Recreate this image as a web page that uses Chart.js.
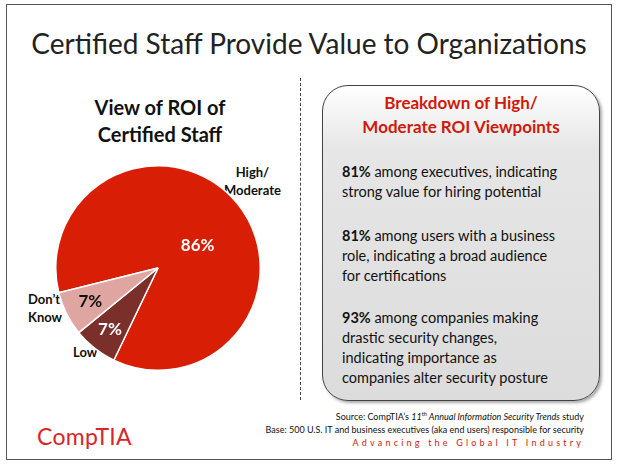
<!DOCTYPE html>
<html><head><meta charset="utf-8">
<script src="https://cdn.jsdelivr.net/npm/chart.js@4"></script>
<style>
body{margin:0;width:618px;height:467px;background:#fff;font-family:Lato,"Open Sans",sans-serif;position:relative;overflow:hidden}
.a{position:absolute;white-space:nowrap}
#frame{left:6px;top:4px;width:604px;height:454px;border:1.5px solid #555}
#title{left:0;width:618px;top:26px;text-align:center;font-size:28px;color:#222}
#sub{left:60px;width:200px;top:94px;text-align:center;font-size:20px;font-weight:bold;line-height:27px;color:#111}
#sep{left:300px;top:78px;height:322px;border-left:1.5px dashed #444}
#box{left:322px;top:85px;width:276px;height:314px;border:1.5px solid #444;border-radius:26px;background:linear-gradient(#fff 0%,#e6e6e6 20%,#dcdcdc 100%);box-shadow:2px 2px 3px #aaa}
#bh{left:322px;width:278px;top:91px;text-align:center;font-size:17px;font-weight:bold;color:#d0190a;line-height:24px}
.t{left:342px;font-size:14.5px;line-height:20px;color:#111}
.l{font-size:13px;font-weight:bold;line-height:18px;color:#111}
#src{right:34px;top:407px;text-align:right;font-size:9px;line-height:13px;color:#111}
#adv{right:34px;top:437px;font-size:9px;letter-spacing:3.2px;color:#d0190a}
#logo{left:37px;top:422px;font-size:23px;color:#d8262a;letter-spacing:0.3px}
#cw{left:55px;top:165px;width:206px;height:206px}
</style></head><body>
<div class="a" id="frame"></div>
<div class="a" id="title">Certified Staff Provide Value to Organizations</div>
<div class="a" id="sub">View of ROI of<br>Certified Staff</div>
<div class="a" id="sep"></div>
<div class="a" id="box"></div>
<div class="a" id="bh">Breakdown of High/<br>Moderate ROI Viewpoints</div>
<div class="a t" style="top:162px"><b>81%</b> among executives, indicating<br>strong value for hiring potential</div>
<div class="a t" style="top:226px"><b>81%</b> among users with a business<br>role, indicating a broad audience<br>for certifications</div>
<div class="a t" style="top:308px"><b>93%</b> among companies making<br>drastic security changes,<br>indicating importance as<br>companies alter security posture</div>
<div class="a l" style="left:224px;top:163px;text-align:center">High/<br>Moderate</div>
<div class="a l" style="left:28px;top:290px">Don’t<br>Know</div>
<div class="a l" style="left:73px;top:343px">Low</div>
<div class="a" id="src">Source: CompTIA’s <i>11<sup style="font-size:6px">th</sup> Annual Information Security Trends</i> study<br>Base: 500 U.S. IT and business executives (aka end users) responsible for security</div>
<div class="a" id="adv">Advancing the Global IT Industry</div>
<div class="a" id="logo">CompTIA<span style="font-size:6px">.</span></div>
<div class="a" id="cw"><canvas id="c"></canvas></div>
<script>
const categories=["High/Moderate","Low","Don't Know"];
const values=[86,7,7];
const colors=["#d81e05","#7a2f2b","#dea5a1"];
const labelColors=["#fff","#fff","#111"];
const labelRad=[0.5,0.76,0.74];
const pctPlugin={id:'pct',afterDatasetsDraw(ch){
  const ctx=ch.ctx;const meta=ch.getDatasetMeta(0);
  meta.data.forEach((a,i)=>{
    const mid=(a.startAngle+a.endAngle)/2;const r=a.outerRadius*labelRad[i];
    const x=a.x+Math.cos(mid)*r,y=a.y+Math.sin(mid)*r+(i==0?10:0);
    ctx.save();ctx.font='bold 17px Lato, sans-serif';ctx.fillStyle=labelColors[i];
    ctx.textAlign='center';ctx.textBaseline='middle';ctx.fillText(values[i]+'%',x,y);ctx.restore();
  });}};
new Chart(document.getElementById('c'),{type:'pie',
 data:{labels:categories,datasets:[{data:values,backgroundColor:colors,borderColor:'#fff',borderWidth:1.5}]},
 options:{responsive:true,maintainAspectRatio:false,animation:false,rotation:256,
  plugins:{legend:{display:false},tooltip:{enabled:false}},layout:{padding:0}},
 plugins:[pctPlugin]});
</script>
</body></html>
